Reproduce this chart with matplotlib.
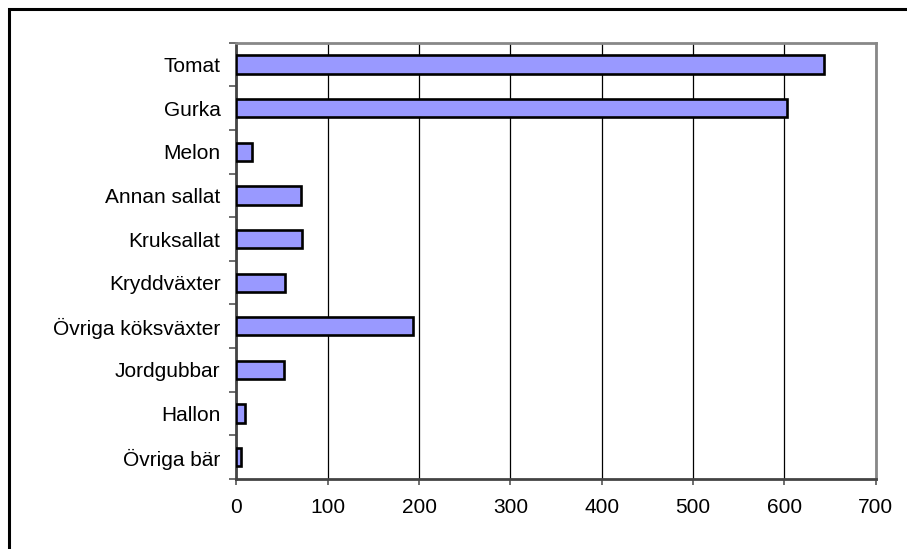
import matplotlib
matplotlib.use("Agg")
import matplotlib.pyplot as plt
from matplotlib.patches import Rectangle
from matplotlib.ticker import FixedLocator, NullFormatter

categories = ["Tomat", "Gurka", "Melon", "Annan sallat", "Kruksallat",
              "Kryddväxter", "Övriga köksväxter", "Jordgubbar", "Hallon", "Övriga bär"]
values = [643, 603, 17, 71, 72, 53, 193, 52, 9, 5]
xticks = [0, 100, 200, 300, 400, 500, 600, 700]

plt.rcParams['font.family'] = ['Liberation Sans', 'DejaVu Sans']
fs = 15

fig = plt.figure(figsize=(9.07, 5.49), dpi=100)
fig.patch.set_facecolor('white')

# outer chart frame (extends beyond the bottom/right of the image)
frame = Rectangle((9/907, -0.2), 1.2, 1 - 9/549 + 0.2, transform=fig.transFigure,
                  fill=False, edgecolor='black', linewidth=2.2, clip_on=False)
fig.add_artist(frame)

ax = fig.add_axes([236.5/907, 1 - 479/549, (875.7-236.5)/907, (479-42.7)/549])
n = len(categories)
ypos = list(range(n))[::-1]
ax.barh(ypos, values, height=0.42, color='#9999FF', edgecolor='black', linewidth=1.9, zorder=3)

ax.set_xlim(0, 700)
ax.set_ylim(-0.5, n - 0.5)
ax.set_xticks(xticks)
ax.set_xticklabels([str(t) for t in xticks], fontsize=fs)
ax.set_yticks(ypos)
ax.set_yticklabels(categories, fontsize=fs)
ax.tick_params(axis='y', which='major', length=0, pad=11.5)
ax.yaxis.set_minor_locator(FixedLocator([i - 0.5 for i in range(n + 1)]))
ax.yaxis.set_minor_formatter(NullFormatter())
ax.tick_params(axis='y', which='minor', length=5, width=1.2, color='#555555', direction='out')
ax.tick_params(axis='x', which='major', length=4.5, width=1.2, color='#555555', direction='out', pad=9)

ax.grid(axis='x', color='black', linewidth=0.9, zorder=1)
for side in ['top', 'right']:
    ax.spines[side].set_color('#888888')
    ax.spines[side].set_linewidth(2)
for side in ['left', 'bottom']:
    ax.spines[side].set_color('#444444')
    ax.spines[side].set_linewidth(2)
ax.set_axisbelow(True)

fig.savefig('out.png', dpi=100, facecolor='white')
